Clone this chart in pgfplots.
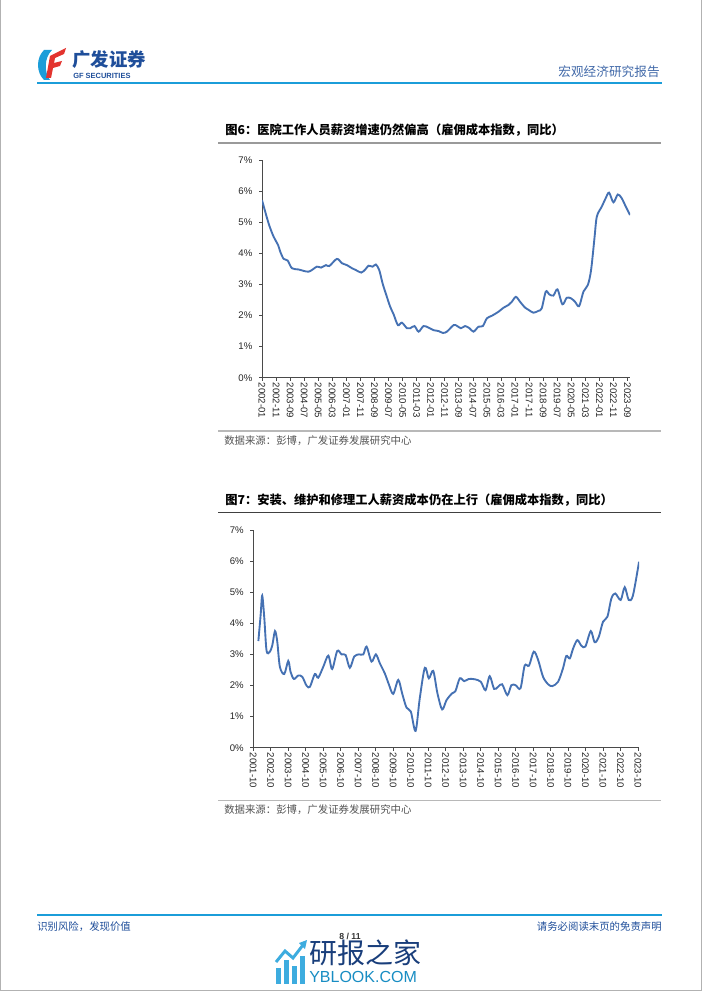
\documentclass[border=0pt]{standalone}
\usepackage{pgfplots}
\pgfplotsset{compat=1.18}
\usepackage{fontspec}
\setmainfont{Liberation Sans}
\newfontfamily\cjk{Noto Sans CJK SC}

\definecolor{lineblue}{HTML}{4571B3}
\definecolor{axgray}{HTML}{4A4A4A}
\definecolor{gfblue}{HTML}{1B9DD9}
\definecolor{gfdark}{HTML}{1F4E9A}
\definecolor{gfred}{HTML}{E3342F}
\definecolor{rulegray}{HTML}{9A9A9A}
\definecolor{srcgray}{HTML}{555555}

\pgfplotsset{
  eci/.style={
    scale only axis,
    anchor=south west,
    axis x line*=bottom, axis y line*=left,
    axis line style={axgray, line width=0.6pt},
    ymin=0, ymax=7, ytick={0,...,7},
    yticklabels={0\%,1\%,2\%,3\%,4\%,5\%,6\%,7\%},
    tick align=outside,
    major tick length=2.2pt,
    tick style={axgray, line width=0.5pt},
    ticklabel style={font=\fontsize{7.2}{8}\selectfont, text=black!85},
    xticklabel style={rotate=-90, anchor=west, inner sep=1.5pt},
    yticklabel style={xshift=-1.5pt},
  },
  ecline/.style={lineblue, line width=1.4pt, no markers, smooth, tension=0.5},
}

\begin{document}
\begin{tikzpicture}
\begin{scope}[x=0.75pt, y=-0.75pt]
  \fill[white] (0,0) rectangle (702,991);
  \path[use as bounding box] (0,0) rectangle (702,991);
  \draw[gray!60, line width=0.6pt] (0.5,0) -- (0.5,990.5) -- (701.5,990.5) -- (701.5,0);

  % header
  \draw[gfblue, line width=1.3pt] (37,83) -- (662,83);
  \fill[gfblue] (44,50) .. controls (36,58) and (36,72) .. (44,80) -- (50,80) .. controls (44,72) and (44,58) .. (52,50) -- cycle;
  \fill[gfred] (50,56) -- (66,48) -- (64,54) -- (55,58) -- (54,63) -- (62,61) -- (60,66) -- (53,68) -- (51,78) -- (46,78) -- cycle;
  \node[anchor=west, inner sep=0, text=gfdark] at (72,60) {\cjk\bfseries\fontsize{13.8}{14}\selectfont 广发证券};
  \node[anchor=west, inner sep=0, text=gfdark] at (73,76) {\bfseries\fontsize{5.6}{6}\selectfont GF SECURITIES};
  \node[anchor=east, inner sep=0, text=gfdark!85] at (660,72) {\cjk\fontsize{9.5}{10}\selectfont 宏观经济研究报告};

  % chart 1 frame
  \node[anchor=west, inner sep=0] at (225,130.5) {\cjk\bfseries\fontsize{9.2}{10}\selectfont 图6：医院工作人员薪资增速仍然偏高（雇佣成本指数，同比）};
  \draw[rulegray, line width=1.1pt] (218,143) -- (661,143);
  \draw[rulegray!70, line width=0.9pt] (218,431) -- (661,431);
  \node[anchor=west, inner sep=0, text=srcgray] at (224,440.5) {\cjk\fontsize{7.8}{8}\selectfont 数据来源：彭博，广发证券发展研究中心};

  % chart 2 frame
  \node[anchor=west, inner sep=0] at (225,500) {\cjk\bfseries\fontsize{9.2}{10}\selectfont 图7：安装、维护和修理工人薪资成本仍在上行（雇佣成本指数，同比）};
  \draw[black!75, line width=1.1pt] (218,512.5) -- (661,512.5);
  \draw[rulegray!70, line width=0.9pt] (218,800.5) -- (661,800.5);
  \node[anchor=west, inner sep=0, text=srcgray] at (224,810) {\cjk\fontsize{7.8}{8}\selectfont 数据来源：彭博，广发证券发展研究中心};

  % footer
  \draw[gfblue, line width=1.1pt] (37,915) -- (662,915);
  \node[anchor=west, inner sep=0, text=gfdark] at (37,927) {\cjk\fontsize{7.8}{8}\selectfont 识别风险，发现价值};
  \node[anchor=east, inner sep=0, text=gfdark] at (662,927) {\cjk\fontsize{7.8}{8}\selectfont 请务必阅读末页的免责声明};
  \node[inner sep=0, text=black!80] at (350,936) {\bfseries\fontsize{6.5}{7}\selectfont 8 / 11};

  % watermark
  \fill[gfblue!85] (276,968) rectangle (281,984);
  \fill[gfblue!85] (284,960) rectangle (289,984);
  \fill[gfblue!85] (292,966) rectangle (297,984);
  \fill[gfblue!85] (300,956) rectangle (305,984);
  \draw[gfblue!85, line width=2.2pt] (276,962) -- (285,951) -- (293,958) -- (303,945);
  \fill[gfblue!85] (307,940) -- (299,943) -- (305,949) -- cycle;
  \node[anchor=west, inner sep=0, text=gfdark!80!black] at (309,953) {\cjk\fontsize{21}{22}\selectfont 研报之家};
  \node[anchor=west, inner sep=0, text=gfblue!90!black] at (309,977) {\fontsize{12}{13}\selectfont YBLOOK.COM};
\end{scope}

% ---------- chart 1: hospital workers ----------
\begin{axis}[eci,
  at={(262*0.75pt,-377.7*0.75pt)},
  width=276pt, height=163.3pt,
  xmin=0, xmax=261.8,
  xtick={0,10,...,260},
  xticklabels={2002-01,2002-11,2003-09,2004-07,2005-05,2006-03,2007-01,2007-11,2008-09,2009-07,2010-05,2011-03,2012-01,2012-11,2013-09,2014-07,2015-05,2016-03,2017-01,2017-11,2018-09,2019-07,2020-05,2021-03,2022-01,2022-11,2023-09},
]
\addplot[ecline] coordinates {
 (0,5.71) (4.7,4.96) (8.3,4.53) (11.4,4.27) (13,4.05) (15.4,3.82) (18.2,3.77)
 (21.3,3.52) (26,3.48) (33.2,3.41) (39,3.57) (42,3.54) (45.5,3.62) (47.9,3.59)
 (53.3,3.82) (56.9,3.68) (60.4,3.62) (64,3.52) (66.8,3.46) (70.6,3.38) (73.5,3.48)
 (75.8,3.60) (78.7,3.57) (81,3.64) (83.4,3.46) (85.8,3.03) (88.4,2.66) (91.2,2.28)
 (93.6,2.04) (96.7,1.69) (99.5,1.77) (103.1,1.59) (105.5,1.59) (108.5,1.66)
 (111.4,1.48) (114.9,1.66) (118.5,1.61) (122,1.53) (125.6,1.50) (128.7,1.44)
 (131.5,1.48) (136.3,1.69) (138.6,1.67) (141.5,1.59) (144.5,1.66) (147.6,1.59)
 (150.5,1.48) (154,1.64) (157.1,1.66) (160,1.91) (163.5,1.99) (168.2,2.12)
 (171.8,2.25) (175.4,2.34) (177.7,2.44) (180.6,2.60) (183.6,2.44) (187.2,2.25)
 (190,2.17) (193.1,2.09) (196.7,2.15) (199,2.23) (201.9,2.77) (204.3,2.68)
 (207.3,2.64) (210.2,2.84) (213.7,2.36) (216.8,2.57) (219.9,2.55) (222.7,2.44)
 (225.6,2.30) (228.7,2.77) (231.8,2.98) (234.1,3.46) (236.5,4.48) (238.2,5.18)
 (241.7,5.50) (244.5,5.77) (246.9,5.95) (250,5.64) (253.1,5.89) (255.9,5.77)
 (258.8,5.50) (261.8,5.23)
};
\end{axis}

% ---------- chart 2: installation, maintenance and repair ----------
\begin{axis}[eci,
  at={(253.3*0.75pt,-747.7*0.75pt)},
  width=289.3pt, height=163.3pt,
  xmin=0, xmax=22.06,
  xtick={0,...,22},
  xticklabels={2001-10,2002-10,2003-10,2004-10,2005-10,2006-10,2007-10,2008-10,2009-10,2010-10,2011-10,2012-10,2013-10,2014-10,2015-10,2016-10,2017-10,2018-10,2019-10,2020-10,2021-10,2022-10,2023-10},
]
\addplot[ecline] coordinates {
 (0.29,3.43) (0.42,4.27) (0.51,4.89) (0.63,4.16) (0.76,3.11) (0.95,3.09) (1.09,3.30)
 (1.24,3.75) (1.37,3.41) (1.52,2.60) (1.77,2.37) (2.0,2.79) (2.13,2.44) (2.32,2.21)
 (2.57,2.32) (2.80,2.28) (3.05,1.99) (3.24,1.96) (3.52,2.37) (3.71,2.25) (4.0,2.60)
 (4.29,2.96) (4.51,2.53) (4.80,3.11) (5.05,3.00) (5.28,2.98) (5.52,2.57) (5.77,2.93)
 (6.04,3.00) (6.29,3.00) (6.48,3.25) (6.76,2.77) (7.01,3.00) (7.24,2.71) (7.52,2.39)
 (7.75,2.04) (8.0,1.73) (8.29,2.18) (8.51,1.75) (8.76,1.29) (9.01,1.16) (9.28,0.54)
 (9.52,1.59) (9.81,2.57) (10.04,2.23) (10.29,2.47) (10.53,1.75) (10.8,1.23)
 (11.05,1.53) (11.37,1.75) (11.56,1.82) (11.81,2.23) (12.06,2.14) (12.32,2.21)
 (12.67,2.20) (13.01,2.12) (13.28,1.85) (13.52,2.30) (13.77,1.89) (14.0,1.96)
 (14.23,2.04) (14.53,1.69) (14.76,2.01) (15.0,2.01) (15.28,1.91) (15.52,2.64)
 (15.77,2.64) (16.04,3.09) (16.29,2.82) (16.57,2.28) (16.86,2.04) (17.10,1.98)
 (17.43,2.12) (17.71,2.55) (17.90,2.95) (18.10,2.87) (18.29,3.19) (18.53,3.46)
 (18.76,3.28) (18.99,3.25) (19.30,3.75) (19.52,3.39) (19.75,3.55) (20.0,4.05)
 (20.25,4.21) (20.48,4.80) (20.70,4.96) (21.01,4.75) (21.24,5.16) (21.47,4.75)
 (21.71,4.89) (22.06,5.98)
};
\end{axis}
\end{tikzpicture}
\end{document}
